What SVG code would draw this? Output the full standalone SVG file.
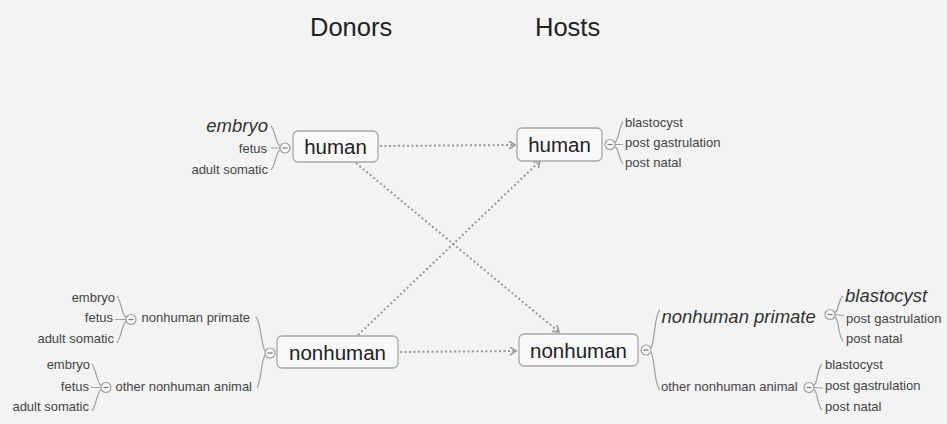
<svg xmlns="http://www.w3.org/2000/svg" width="947" height="424" viewBox="0 0 947 424">
<defs>
<marker id="arr" markerUnits="userSpaceOnUse" markerWidth="10" markerHeight="10" refX="7" refY="4.5" orient="auto" viewBox="0 0 10 10">
<path d="M1,0.5 L7,4.5 L1,8.5" fill="none" stroke="#999" stroke-width="1.6"/>
</marker>
</defs>
<style>
.bg{fill:#f3f3f3}
.title{font-family:"Liberation Sans",Arial,sans-serif;font-size:25.5px;fill:#222}
.box{fill:#f8f8f8;stroke:#a8a8a8;stroke-width:1.3}
.bt{font-family:"Liberation Sans",Arial,sans-serif;font-size:20.5px;fill:#222;text-anchor:middle}
.lb{font-family:"Liberation Sans",Arial,sans-serif;font-size:13px;fill:#444}
.it{font-family:"Liberation Sans",Arial,sans-serif;font-size:18.5px;font-style:italic;fill:#333}
.end{text-anchor:end}
.br{fill:none;stroke:#a0a0a0;stroke-width:1.2}
.tg circle{fill:#f8f8f8;stroke:#a0a0a0;stroke-width:1.2}
.tg line{stroke:#777;stroke-width:1.2}
.edge{fill:none;stroke:#999;stroke-width:2;stroke-dasharray:2 2.5;marker-end:url(#arr)}
</style>
<rect class="bg" x="0" y="0" width="947" height="424"/>
<text class="title" x="310" y="36">Donors</text>
<text class="title" x="535" y="36">Hosts</text>

<g id="connectors">
<path class="edge" d="M380,146 L515,145"/>
<path class="edge" d="M356,163 L559,332"/>
<path class="edge" d="M358,335 L540,161"/>
<path class="edge" d="M400,352 L516,351"/>
</g>

<g id="donor-human">
<rect class="box" x="293" y="131" width="85" height="31" rx="5"/>
<text class="bt" x="335.5" y="154">human</text>
<path class="br" d="M280,146 C276,144 275,130 271,126 M280,148 L271,148 M280,150 C276,152 275,166 271,170"/>
<g class="tg"><circle cx="285" cy="148" r="5"/><line x1="282.5" y1="148" x2="287.5" y2="148"/></g>
<text class="it end" x="268" y="132">embryo</text>
<text class="lb end" x="267" y="153">fetus</text>
<text class="lb end" x="268" y="173.5">adult somatic</text>
</g>

<g id="host-human">
<rect class="box" x="517" y="128" width="85" height="33" rx="5"/>
<text class="bt" x="559.5" y="151.5">human</text>
<path class="br" d="M615,142.5 C619,140 619,126 623,122 M615,144.5 L623,144.5 M615,146.5 C619,149 619,160 623,164"/>
<g class="tg"><circle cx="610" cy="144.5" r="5"/><line x1="607.5" y1="144.5" x2="612.5" y2="144.5"/></g>
<text class="lb" x="625" y="126.5">blastocyst</text>
<text class="lb" x="625" y="147">post gastrulation</text>
<text class="lb" x="625" y="167">post natal</text>
</g>

<g id="donor-nonhuman">
<rect class="box" x="277" y="336" width="121" height="32" rx="5"/>
<text class="bt" x="337.5" y="359.5">nonhuman</text>
<path class="br" d="M265,351 C261,345 261,322 256,317 M265,355 C261,361 261,383 257,388"/>
<g class="tg"><circle cx="270" cy="353" r="5"/><line x1="267.5" y1="353" x2="272.5" y2="353"/></g>
<text class="lb end" x="250" y="322.3">nonhuman primate</text>
<path class="br" d="M126,317.5 C122,315 121,301 117,296 M126,319.5 L115,319.5 M126,321.5 C122,324 121,338 117,343"/>
<g class="tg"><circle cx="131" cy="319.5" r="5"/><line x1="128.5" y1="319.5" x2="133.5" y2="319.5"/></g>
<text class="lb end" x="115" y="301.7">embryo</text>
<text class="lb end" x="113" y="322.3">fetus</text>
<text class="lb end" x="114" y="343.3">adult somatic</text>
<text class="lb end" x="252" y="390.7">other nonhuman animal</text>
<path class="br" d="M101,385.5 C97,383 96,369 92,364 M101,387.5 L91,387.5 M101,389.5 C97,392 96,406 92,411"/>
<g class="tg"><circle cx="106" cy="387.5" r="5"/><line x1="103.5" y1="387.5" x2="108.5" y2="387.5"/></g>
<text class="lb end" x="90" y="369.3">embryo</text>
<text class="lb end" x="89" y="390.7">fetus</text>
<text class="lb end" x="89" y="411">adult somatic</text>
</g>

<g id="host-nonhuman">
<rect class="box" x="519" y="334" width="119" height="32" rx="5"/>
<text class="bt" x="578.5" y="358">nonhuman</text>
<path class="br" d="M651,348 C655,342 654,315 660,310 M651,352 C655,358 654,385 660,390"/>
<g class="tg"><circle cx="646" cy="350" r="5"/><line x1="643.5" y1="350" x2="648.5" y2="350"/></g>
<text class="it" x="661.5" y="323.3">nonhuman primate</text>
<path class="br" d="M835,312.5 C839,310 838,300 843,296 M835,314.5 L844,315.5 M835,316.5 C839,319 838,336 843,341"/>
<g class="tg"><circle cx="830" cy="314.5" r="5"/><line x1="827.5" y1="314.5" x2="832.5" y2="314.5"/></g>
<text class="it" x="845" y="301.7">blastocyst</text>
<text class="lb" x="846" y="322.7">post gastrulation</text>
<text class="lb" x="846" y="343.3">post natal</text>
<text class="lb" x="661" y="391">other nonhuman animal</text>
<path class="br" d="M814,385.5 C818,383 817,368 822,364 M814,387.5 L823,388 M814,389.5 C818,392 817,405 822,410"/>
<g class="tg"><circle cx="809" cy="387.5" r="5"/><line x1="806.5" y1="387.5" x2="811.5" y2="387.5"/></g>
<text class="lb" x="825" y="369.3">blastocyst</text>
<text class="lb" x="825" y="390">post gastrulation</text>
<text class="lb" x="825" y="410.7">post natal</text>
</g>
</svg>
